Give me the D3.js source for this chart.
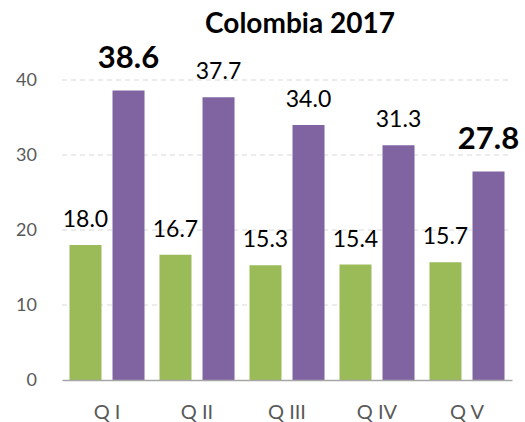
<!DOCTYPE html>
<html lang="en">
<head>
    <meta charset="UTF-8">
    <title>Colombia 2017</title>
    <script src="https://cdn.jsdelivr.net/npm/d3@7"></script>
    <style>
        body { margin: 0; background: #fff; }
        #graphDiv { width: 525px; height: 422px; }
        text { font-family: Lato, "Open Sans", sans-serif; }
    </style>
</head>
<body>
<div id="graphDiv"></div>
<script>
    // data
    var categories = ["Q I", "Q II", "Q III", "Q IV", "Q V"];
    var series = ["s1", "s2"];
    var greenValues = [18.0, 16.7, 15.3, 15.4, 15.7];
    var purpleValues = [38.6, 37.7, 34.0, 31.3, 27.8];
    var boldLabels = [true, false, false, false, true]; // purple labels shown bold
    var yTicks = [0, 10, 20, 30, 40];
    var colors = ["#9BBB59", "#8064A2"];

    function drawChart() {
        var selector = "#graphDiv";
        var w0 = 525, h0 = 422;
        var left = 62, right = 512, top = 80, bottom = 380;

        var svg = d3.select(selector).append("svg")
            .attr("width", w0)
            .attr("height", h0);

        var x0 = d3.scaleBand().domain(categories).range([left, right]).padding(0);
        var x1 = d3.scaleBand().domain(series).range([0, x0.bandwidth()])
            .paddingInner(0.256).paddingOuter(0.174);
        var y = d3.scaleLinear().domain([0, 40]).range([bottom, top]);

        // title
        svg.append("text")
            .attr("x", 300).attr("y", 33)
            .attr("text-anchor", "middle")
            .style("font-size", "28px").style("font-weight", "bold")
            .style("fill", "#000")
            .text("Colombia 2017");

        // gridlines
        svg.selectAll("line.grid")
            .data(yTicks.filter(function (d) { return d > 0; }))
            .enter().append("line")
            .attr("class", "grid")
            .attr("x1", left).attr("x2", right)
            .attr("y1", function (d) { return y(d); })
            .attr("y2", function (d) { return y(d); })
            .style("stroke", "#d9d9d9")
            .style("stroke-width", 1)
            .style("stroke-dasharray", "5,4");

        // y axis labels
        var yAxis = d3.axisLeft(y).tickValues(yTicks).tickSize(0).tickPadding(0);
        var yg = svg.append("g").attr("transform", "translate(37,0)").call(yAxis);
        yg.select(".domain").remove();
        yg.selectAll("text")
            .style("font-size", "18px")
            .style("fill", "#595959")
            .style("font-family", "Lato, 'Open Sans', sans-serif");

        var groups = svg.selectAll("g.group")
            .data(categories).enter().append("g")
            .attr("class", "group")
            .attr("transform", function (d) { return "translate(" + x0(d) + ",0)"; });

        var allSeries = [greenValues, purpleValues];
        series.forEach(function (s, si) {
            groups.append("rect")
                .attr("x", x1(s))
                .attr("width", x1.bandwidth())
                .attr("y", function (d, i) { return y(allSeries[si][i]); })
                .attr("height", function (d, i) { return y(0) - y(allSeries[si][i]); })
                .style("fill", colors[si]);

            groups.append("text")
                .attr("x", x1(s) + x1.bandwidth() / 2)
                .attr("y", function (d, i) {
                    var bold = si == 1 && boldLabels[i];
                    return y(allSeries[si][i]) - (bold ? 23 : 18);
                })
                .attr("text-anchor", "middle")
                .style("font-size", function (d, i) { return (si == 1 && boldLabels[i]) ? "31px" : "23px"; })
                .style("font-weight", function (d, i) { return (si == 1 && boldLabels[i]) ? "bold" : "normal"; })
                .style("fill", "#000")
                .text(function (d, i) { return allSeries[si][i].toFixed(1); });
        });

        // x axis
        var xAxis = d3.axisBottom(x0).tickSize(0).tickPadding(0);
        var xg = svg.append("g").attr("transform", "translate(0," + bottom + ")").call(xAxis);
        xg.select(".domain").style("stroke", "#a6a6a6").style("stroke-width", 1.3);
        xg.selectAll("text")
            .attr("dy", "39px")
            .style("font-size", "20px")
            .style("fill", "#595959")
            .style("font-family", "Lato, 'Open Sans', sans-serif");
    }

    drawChart();
</script>
</body>
</html>
